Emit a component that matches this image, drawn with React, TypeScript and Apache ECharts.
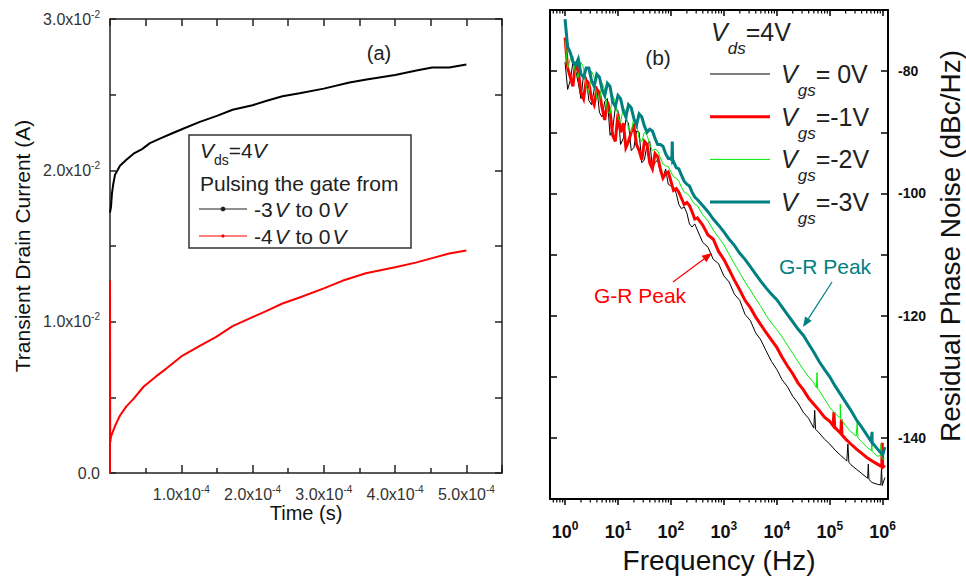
import React, { useEffect, useRef } from "react";
import * as echarts from "echarts";

const FONT = '"Liberation Sans", Arial, Helvetica, sans-serif';
const INK = "#222";

// ---------- (a) transient drain current after pulsing the gate ----------
const timeGate3V = [0, 0.014e-4, 0.028e-4, 0.046e-4, 0.07e-4, 0.14e-4, 0.23e-4, 0.33e-4, 0.45e-4, 0.56e-4, 0.7e-4, 0.85e-4, 1.0e-4, 1.26e-4, 1.5e-4, 1.72e-4, 2.0e-4, 2.2e-4, 2.42e-4, 2.66e-4, 3.0e-4, 3.36e-4, 3.6e-4, 4.0e-4, 4.3e-4, 4.52e-4, 4.76e-4, 5.0e-4];
const currentGate3V = [0.0172, 0.0176, 0.0185, 0.0191, 0.0197, 0.0203, 0.0207, 0.0211, 0.0214, 0.0218, 0.0221, 0.0224, 0.0227, 0.0232, 0.0236, 0.024, 0.0243, 0.0246, 0.0249, 0.0251, 0.0254, 0.0258, 0.026, 0.0263, 0.0266, 0.0268, 0.0268, 0.027];

const timeGate4V = [0, 0, 0.003e-4, 0.014e-4, 0.07e-4, 0.14e-4, 0.23e-4, 0.33e-4, 0.47e-4, 0.65e-4, 0.79e-4, 1.0e-4, 1.26e-4, 1.49e-4, 1.72e-4, 2.0e-4, 2.19e-4, 2.42e-4, 2.66e-4, 3.0e-4, 3.26e-4, 3.59e-4, 4.0e-4, 4.29e-4, 4.52e-4, 4.76e-4, 5.0e-4];
const currentGate4V = [0, 0.0127, 0.002, 0.0024, 0.0031, 0.0038, 0.0044, 0.0049, 0.0057, 0.0064, 0.0069, 0.0077, 0.0084, 0.009, 0.0097, 0.0103, 0.0107, 0.0112, 0.0116, 0.0122, 0.0127, 0.0132, 0.0136, 0.0139, 0.0142, 0.0145, 0.0147];

const gateLegend = ["-3", "-4"];

// ---------- (b) residual phase noise vs offset frequency ----------
const freqHz = [
  1, 1.26, 1.58, 2, 2.51, 3.16, 3.98, 5.01, 6.31, 7.94,
  10, 12.6, 15.8, 20, 25.1, 31.6, 39.8, 50.1, 63.1, 79.4,
  100, 126, 158, 200, 251, 316, 398, 501, 631, 794,
  1e3, 1.26e3, 1.58e3, 2e3, 2.51e3, 3.16e3, 3.98e3, 5.01e3, 6.31e3, 7.94e3,
  1e4, 1.26e4, 1.58e4, 2e4, 2.51e4, 3.16e4, 3.98e4, 5.01e4, 6.31e4, 7.94e4,
  1e5, 1.26e5, 1.58e5, 2e5, 2.51e5, 3.16e5, 3.98e5, 5.01e5, 6.31e5, 7.94e5,
  1e6,
];

const noiseVgs0 = [
  -78.5, -81.5, -79.8, -84.5, -81.0, -85.5, -82.5, -87.5, -84.5, -89.5,
  -86.5, -91.0, -88.5, -92.5, -90.0, -94.5, -91.5, -95.0, -96.5, -96.0,
  -98.8, -100.0, -102.5, -103.2, -105.5, -106.0, -108.0, -108.8, -110.8, -111.5,
  -113.5, -114.5, -116.5, -117.5, -119.8, -120.8, -122.8, -124.0, -125.8, -127.5,
  -128.8, -130.5, -131.6, -133.2, -134.3, -135.8, -136.8, -138.3, -139.2, -140.2,
  -141.0, -142.0, -142.8, -143.6, -144.4, -145.1, -145.8, -146.5, -147.3, -147.6,
  -147.8,
];
const noiseVgs1 = [
  -74.5, -81.0, -78.5, -83.5, -81.5, -84.5, -83.0, -86.0, -85.0, -90.5,
  -87.0, -88.5, -91.5, -89.0, -93.0, -91.5, -95.0, -93.5, -96.0, -96.8,
  -98.0, -99.2, -100.8, -101.5, -103.0, -104.0, -105.2, -106.8, -107.5, -109.5,
  -110.8, -112.5, -114.2, -115.8, -117.5, -118.7, -120.2, -121.5, -122.8, -124.0,
  -125.2, -126.8, -128.2, -129.5, -131.0, -132.1, -133.5, -134.5, -135.5, -136.6,
  -137.3, -138.3, -139.2, -140.2, -141.0, -141.8, -142.5, -143.2, -143.8, -144.3,
  -144.8,
];
const noiseVgs2 = [
  -75.0, -78.0, -80.5, -78.5, -82.5, -80.0, -84.5, -82.0, -86.5, -84.0,
  -87.5, -86.0, -89.5, -87.5, -91.0, -90.0, -92.0, -92.8, -94.2, -95.5,
  -96.5, -97.5, -99.0, -100.0, -101.2, -102.0, -103.5, -104.5, -106.0, -107.2,
  -108.4, -110.0, -111.5, -113.0, -114.5, -115.8, -117.2, -118.5, -120.0, -121.2,
  -122.3, -123.5, -124.8, -126.2, -127.5, -128.8, -130.0, -131.0, -132.2, -133.6,
  -135.0, -136.0, -136.8, -138.0, -139.0, -139.7, -140.6, -141.5, -142.2, -143.0,
  -143.5,
];
const noiseVgs3 = [
  -71.5, -77.0, -79.0, -80.5, -79.5, -81.5, -80.5, -83.0, -82.0, -85.0,
  -84.0, -86.5, -85.5, -87.8, -87.0, -89.0, -89.5, -91.0, -92.0, -93.5,
  -94.2, -95.8, -97.0, -98.5, -99.8, -101.0, -102.0, -103.0, -104.2, -105.2,
  -106.3, -107.5, -108.5, -109.8, -110.8, -112.0, -113.2, -114.4, -115.5, -116.5,
  -117.4, -118.6, -119.8, -121.0, -122.2, -123.2, -124.6, -126.0, -127.5, -128.8,
  -130.0, -131.5, -132.8, -134.2, -135.5, -137.0, -138.2, -139.5, -140.8, -141.8,
  -142.8,
];

// denser readings of the noisy low-offset part (1 Hz .. 300 Hz)
const freqLowHz = [
  1.12, 1.41, 1.78, 2.24, 2.82, 3.55, 4.47, 5.62, 7.08, 8.91,
  11.2, 14.1, 17.8, 22.4, 28.2, 35.5, 44.7, 56.2, 70.8, 89.1,
  112, 141, 178, 224, 282,
];
const lowVgs0 = [
  -83.0, -78.5, -82.0, -80.5, -84.8, -83.0, -86.8, -85.0, -90.5, -86.0,
  -92.0, -88.0, -93.0, -89.8, -95.0, -92.0, -95.8, -94.5, -97.5, -98.5,
  -99.0, -101.8, -102.2, -105.0, -105.0,
];
const lowVgs1 = [
  -79.5, -82.5, -80.0, -84.5, -82.0, -85.5, -83.5, -88.0, -86.5, -91.5,
  -90.0, -92.5, -90.0, -92.0, -94.5, -92.0, -96.0, -94.0, -97.5, -96.5,
  -99.5, -99.8, -101.8, -102.0, -104.2,
];
const lowVgs2 = [
  -79.5, -77.5, -81.0, -79.5, -83.5, -81.0, -85.0, -83.0, -87.0, -85.0,
  -88.5, -86.5, -90.0, -88.5, -91.5, -90.5, -93.0, -93.0, -95.2, -95.6,
  -97.3, -98.0, -99.8, -100.4, -101.8,
];
const lowVgs3 = [
  -76.0, -78.5, -78.0, -81.0, -79.5, -82.5, -81.0, -84.0, -82.5, -85.8,
  -84.5, -87.5, -86.0, -88.8, -87.5, -90.0, -89.8, -92.0, -92.3, -94.3,
  -94.8, -96.0, -98.0, -98.8, -100.6,
];

// narrow interference spurs and the last sweep point of each trace
const spursVgs0 = [
  [5.0e4, -138.4], [5.2e4, -135.5], [5.4e4, -138.6],
  [2.1e5, -143.8], [2.2e5, -141.0], [2.3e5, -144.0],
  [5.2e5, -146.6], [5.35e5, -144.3], [5.5e5, -146.8],
  [9.2e5, -147.7], [9.5e5, -144.8], [9.8e5, -147.8],
  [1.1e6, -146.5],
];
const spursVgs1 = [
  [1.16e5, -138.0], [1.2e5, -135.8], [1.24e5, -138.2],
  [1.62e5, -139.3], [1.66e5, -137.0], [1.7e5, -139.5],
  [9.6e5, -144.7], [9.8e5, -140.8], [1.0e6, -144.8],
  [1.1e6, -144.5],
];
const spursVgs2 = [
  [5.6e4, -131.8], [5.75e4, -129.3], [5.9e4, -132.0],
  [1.54e5, -136.7], [1.58e5, -134.5], [1.62e5, -136.9],
  [3.2e5, -139.8], [3.3e5, -137.4], [3.4e5, -140.0],
  [6.1e5, -142.1], [6.3e5, -140.0], [6.5e5, -142.3],
  [9.1e5, -142.9], [9.3e5, -141.0], [9.5e5, -143.1],
  [1.1e6, -143.3],
];
const spursVgs3 = [
  [104, -94.6], [106, -91.5], [108, -94.9],
  [6.1e5, -140.6], [6.3e5, -139.0], [6.5e5, -140.9],
  [1.1e6, -141.5],
];

const noiseLegend = ["= 0V", "=-1V", "=-2V", "=-3V"];
const noiseColors = ["#000000", "#ff0000", "#00ee00", "#008080"];
const noiseWidths = [1, 3, 1, 3];

const xLogMin = 0.52;
const xLogMax = 1.26e6;

function pairs(xs: number[], ys: number[]) {
  return xs.map((x, i) => [x, ys[i]]);
}

function trace(vals: number[], low: number[], spurs: number[][]) {
  return [...pairs(freqHz, vals), ...pairs(freqLowHz, low), ...spurs].sort((a, b) => a[0] - b[0]);
}

function arrow(x1: number, y1: number, x2: number, y2: number, color: string) {
  const dx = x2 - x1;
  const dy = y2 - y1;
  const len = Math.hypot(dx, dy);
  const ux = dx / len;
  const uy = dy / len;
  const hl = 10;
  const hw = 4;
  const bx = x2 - ux * hl;
  const by = y2 - uy * hl;
  return [
    { type: "line", z: 100, shape: { x1, y1, x2: bx, y2: by }, style: { stroke: color, lineWidth: 1.2 } },
    {
      type: "polygon",
      z: 100,
      shape: { points: [[x2, y2], [bx - uy * hw, by + ux * hw], [bx + uy * hw, by - ux * hw]] },
      style: { fill: color },
    },
  ];
}

function text(x: number, y: number, str: string, style: any, extra: any = {}) {
  return {
    type: "text",
    z: 100,
    x,
    y,
    ...extra,
    style: {
      text: str,
      fontFamily: FONT,
      fill: INK,
      align: "left",
      textAlign: "left",
      verticalAlign: "middle",
      textVerticalAlign: "middle",
      ...style,
    },
  };
}

const richA = {
  b: { fontSize: 16, color: "#333", fontFamily: FONT, lineHeight: 20 },
  s: { fontSize: 10, color: "#333", fontFamily: FONT, lineHeight: 10, verticalAlign: "top" },
};
const richB = {
  b: { fontSize: 18, fontWeight: "bold", color: "#111", fontFamily: FONT, lineHeight: 24 },
  s: { fontSize: 12, fontWeight: "bold", color: "#111", fontFamily: FONT, lineHeight: 12, verticalAlign: "top" },
};

const AX_A = { color: INK, width: 1.5 };
const AX_B = { color: "#000", width: 2 };

function buildOption() {
  const minorFreqs: number[][] = [];
  for (let e = -1; e <= 6; e++) {
    for (let m = 2; m <= 9; m++) {
      const f = m * Math.pow(10, e);
      if (f > xLogMin && f < xLogMax) minorFreqs.push([f, -110]);
    }
  }

  const noiseSeries = [
    trace(noiseVgs0, lowVgs0, spursVgs0),
    trace(noiseVgs1, lowVgs1, spursVgs1),
    trace(noiseVgs2, lowVgs2, spursVgs2),
    trace(noiseVgs3, lowVgs3, spursVgs3),
  ].map((data, i) => ({
    type: "line",
    xAxisIndex: 2,
    yAxisIndex: 2,
    data,
    showSymbol: false,
    symbol: "none",
    silent: true,
    lineStyle: { color: noiseColors[i], width: noiseWidths[i], join: "miter" },
    z: 2 + i,
  }));

  // legend of panel (a)
  const legendA: any[] = [
    {
      type: "rect",
      z: 90,
      shape: { x: 189, y: 135, width: 222, height: 113 },
      style: { fill: "#fff", stroke: "#333", lineWidth: 1.5 },
    },
    text(200, 150, "{vi|V}{sub|ds}{n|=4}{vi|V}", {
      rich: {
        vi: { fontSize: 21, fontStyle: "italic", fontFamily: FONT, color: INK, lineHeight: 34 },
        n: { fontSize: 21, fontFamily: FONT, color: INK, lineHeight: 34 },
        sub: { fontSize: 14, fontFamily: FONT, color: INK, lineHeight: 14, verticalAlign: "bottom" },
      },
    }),
    text(200, 183, "Pulsing the gate from", { fontSize: 21 }),
  ];
  [INK, "#ff0000"].forEach((c, i) => {
    const y = 209 + i * 27;
    legendA.push({ type: "line", z: 100, shape: { x1: 199, y1: y, x2: 247, y2: y }, style: { stroke: c, lineWidth: 1.2 } });
    legendA.push({ type: "circle", z: 100, shape: { cx: 223, cy: y, r: i === 0 ? 2.4 : 1.6 }, style: { fill: c } });
    legendA.push(
      text(254, y, `{n|${gateLegend[i]}}{vi|V}{n| to 0}{vi|V}`, {
        rich: {
          vi: { fontSize: 21, fontStyle: "italic", fontFamily: FONT, color: INK, padding: [0, 1, 0, 2] },
          n: { fontSize: 21, fontFamily: FONT, color: INK },
        },
      })
    );
  });

  // legend of panel (b)
  const richVB = {
    vi: { fontSize: 25, fontStyle: "italic", fontFamily: FONT, color: INK, lineHeight: 50 },
    n: { fontSize: 25, fontFamily: FONT, color: INK, lineHeight: 50 },
    sub: { fontSize: 17, fontStyle: "italic", fontFamily: FONT, color: INK, lineHeight: 17, verticalAlign: "bottom" },
  };
  const legendB: any[] = [text(711, 32, "{vi|V}{sub|ds}{n|=4V}", { rich: richVB })];
  noiseLegend.forEach((lab, i) => {
    const y = 74 + i * 42.7;
    legendB.push({
      type: "line",
      z: 100,
      shape: { x1: 710, y1: y, x2: 770, y2: y },
      style: { stroke: noiseColors[i], lineWidth: noiseWidths[i] },
    });
    legendB.push(text(781, y, `{vi|V}{sub|gs}{n|${lab}}`, { rich: richVB }));
  });

  const graphic: any[] = [
    ...legendA,
    ...legendB,
    text(379, 53, "(a)", { fontSize: 20, align: "center", textAlign: "center" }),
    text(658, 57, "(b)", { fontSize: 21, align: "center", textAlign: "center" }),
    text(306, 513, "Time (s)", { fontSize: 20, align: "center", textAlign: "center", fill: "#111" }),
    text(719, 560, "Frequency (Hz)", { fontSize: 28, align: "center", textAlign: "center", fill: "#111" }),
    text(22, 246, "Transient Drain Current (A)", { fontSize: 21, align: "center", textAlign: "center", fill: "#111" }, { rotation: Math.PI / 2 }),
    text(950, 246, "Residual Phase Noise (dBc/Hz)", { fontSize: 28, align: "center", textAlign: "center", fill: "#111" }, { rotation: Math.PI / 2 }),
    text(640, 295, "G-R Peak", { fontSize: 21, align: "center", textAlign: "center", fill: "#ff0000" }),
    text(825, 266, "G-R Peak", { fontSize: 21, align: "center", textAlign: "center", fill: "#008080" }),
    ...arrow(673, 282, 712, 253, "#ff0000"),
    ...arrow(832, 282, 803, 327, "#008080"),
  ];

  return {
    animation: false,
    backgroundColor: "#fff",
    textStyle: { fontFamily: FONT },
    grid: [
      { left: 110, top: 19, width: 392, height: 454 },
      { left: 550, top: 10, width: 338, height: 489 },
    ],
    xAxis: [
      {
        gridIndex: 0,
        type: "value",
        position: "bottom",
        min: 0,
        max: 5.5e-4,
        interval: 1e-4,
        axisLine: { onZero: false, lineStyle: AX_A },
        axisTick: { inside: true, length: 8, lineStyle: AX_A },
        minorTick: { show: true, splitNumber: 2, length: 5, lineStyle: AX_A },
        splitLine: { show: false },
        axisLabel: {
          margin: 11,
          showMinLabel: false,
          showMaxLabel: false,
          formatter: (v: number) => `{b|${(v / 1e-4).toFixed(1)}x10}{s|-4}`,
          rich: richA,
        },
      },
      {
        gridIndex: 0,
        type: "value",
        position: "top",
        min: 0,
        max: 5.5e-4,
        interval: 0.5e-4,
        axisLine: { onZero: false, lineStyle: AX_A },
        axisTick: { inside: true, length: 7, lineStyle: AX_A },
        axisLabel: { show: false },
        splitLine: { show: false },
      },
      {
        gridIndex: 1,
        type: "log",
        logBase: 10,
        position: "bottom",
        min: xLogMin,
        max: xLogMax,
        axisLine: { lineStyle: AX_B },
        axisTick: { inside: false, length: 6, lineStyle: { color: "#000", width: 1.5 } },
        splitLine: { show: false },
        axisLabel: {
          margin: 21,
          showMinLabel: false,
          showMaxLabel: false,
          formatter: (v: number) => `{b|10}{s|${Math.round(Math.log10(v))}}`,
          rich: richB,
        },
      },
      {
        gridIndex: 1,
        type: "log",
        logBase: 10,
        position: "top",
        min: xLogMin,
        max: xLogMax,
        axisLine: { lineStyle: AX_B },
        axisTick: { inside: true, length: 6, lineStyle: { color: "#000", width: 1.5 } },
        axisLabel: { show: false },
        splitLine: { show: false },
      },
    ],
    yAxis: [
      {
        gridIndex: 0,
        type: "value",
        position: "left",
        min: 0,
        max: 0.03,
        interval: 0.01,
        axisLine: { show: true, onZero: false, lineStyle: AX_A },
        axisTick: { show: true, inside: true, length: 6, lineStyle: AX_A },
        minorTick: { show: true, splitNumber: 2, length: 6, lineStyle: AX_A },
        splitLine: { show: false },
        axisLabel: {
          margin: 10,
          formatter: (v: number) => (v === 0 ? "{b|0.0}" : `{b|${(v / 1e-2).toFixed(1)}x10}{s|-2}`),
          rich: richA,
        },
      },
      {
        gridIndex: 0,
        type: "value",
        position: "right",
        min: 0,
        max: 0.03,
        interval: 0.005,
        axisLine: { show: true, onZero: false, lineStyle: AX_A },
        axisTick: { show: true, inside: true, length: 7, lineStyle: AX_A },
        axisLabel: { show: false },
        splitLine: { show: false },
      },
      {
        gridIndex: 1,
        type: "value",
        position: "left",
        min: -150,
        max: -70,
        interval: 10,
        axisLine: { show: true, onZero: false, lineStyle: AX_B },
        axisTick: { show: true, inside: true, length: 7, lineStyle: { color: "#000", width: 1.5 } },
        axisLabel: { show: false },
        splitLine: { show: false },
      },
      {
        gridIndex: 1,
        type: "value",
        position: "right",
        min: -150,
        max: -70,
        interval: 10,
        axisLine: { show: true, onZero: false, lineStyle: AX_B },
        axisTick: { show: true, inside: true, length: 7, lineStyle: { color: "#000", width: 1.5 } },
        axisLabel: {
          margin: 10,
          fontSize: 14,
          fontWeight: "bold",
          color: "#111",
          fontFamily: FONT,
          formatter: (v: number) => (v % 20 === 0 ? String(v) : ""),
        },
        splitLine: { show: false },
      },
    ],
    series: [
      {
        type: "line",
        xAxisIndex: 0,
        yAxisIndex: 0,
        data: pairs(timeGate3V, currentGate3V),
        showSymbol: false,
        symbol: "none",
        silent: true,
        lineStyle: { color: "#000", width: 2 },
      },
      {
        type: "line",
        xAxisIndex: 0,
        yAxisIndex: 0,
        data: pairs(timeGate4V, currentGate4V),
        showSymbol: false,
        symbol: "none",
        silent: true,
        lineStyle: { color: "#ff0000", width: 2 },
      },
      ...noiseSeries,
      {
        // decade sub-divisions of the frequency axis (top and bottom frame)
        type: "custom",
        xAxisIndex: 2,
        yAxisIndex: 2,
        silent: true,
        clip: false,
        data: minorFreqs,
        encode: { x: 0, y: 1 },
        renderItem: (params: any, api: any) => {
          const x = api.coord([api.value(0), -110])[0];
          const cs = params.coordSys;
          const top = cs.y;
          const bottom = cs.y + cs.height;
          const st = { stroke: "#000", lineWidth: 1.2 };
          return {
            type: "group",
            children: [
              { type: "line", shape: { x1: x, y1: bottom, x2: x, y2: bottom + 3.5 }, style: st },
              { type: "line", shape: { x1: x, y1: top, x2: x, y2: top + 3.5 }, style: st },
            ],
          };
        },
      },
    ],
    graphic,
  };
}

export default function App() {
  const ref = useRef<HTMLDivElement>(null);
  useEffect(() => {
    if (!ref.current) return;
    const chart = echarts.init(ref.current, undefined, { renderer: "svg" });
    chart.setOption(buildOption() as any);
    return () => chart.dispose();
  }, []);
  return (
    <div
      ref={ref}
      style={{ position: "absolute", left: 0, top: 0, width: 966, height: 578, background: "#fff" }}
    />
  );
}
